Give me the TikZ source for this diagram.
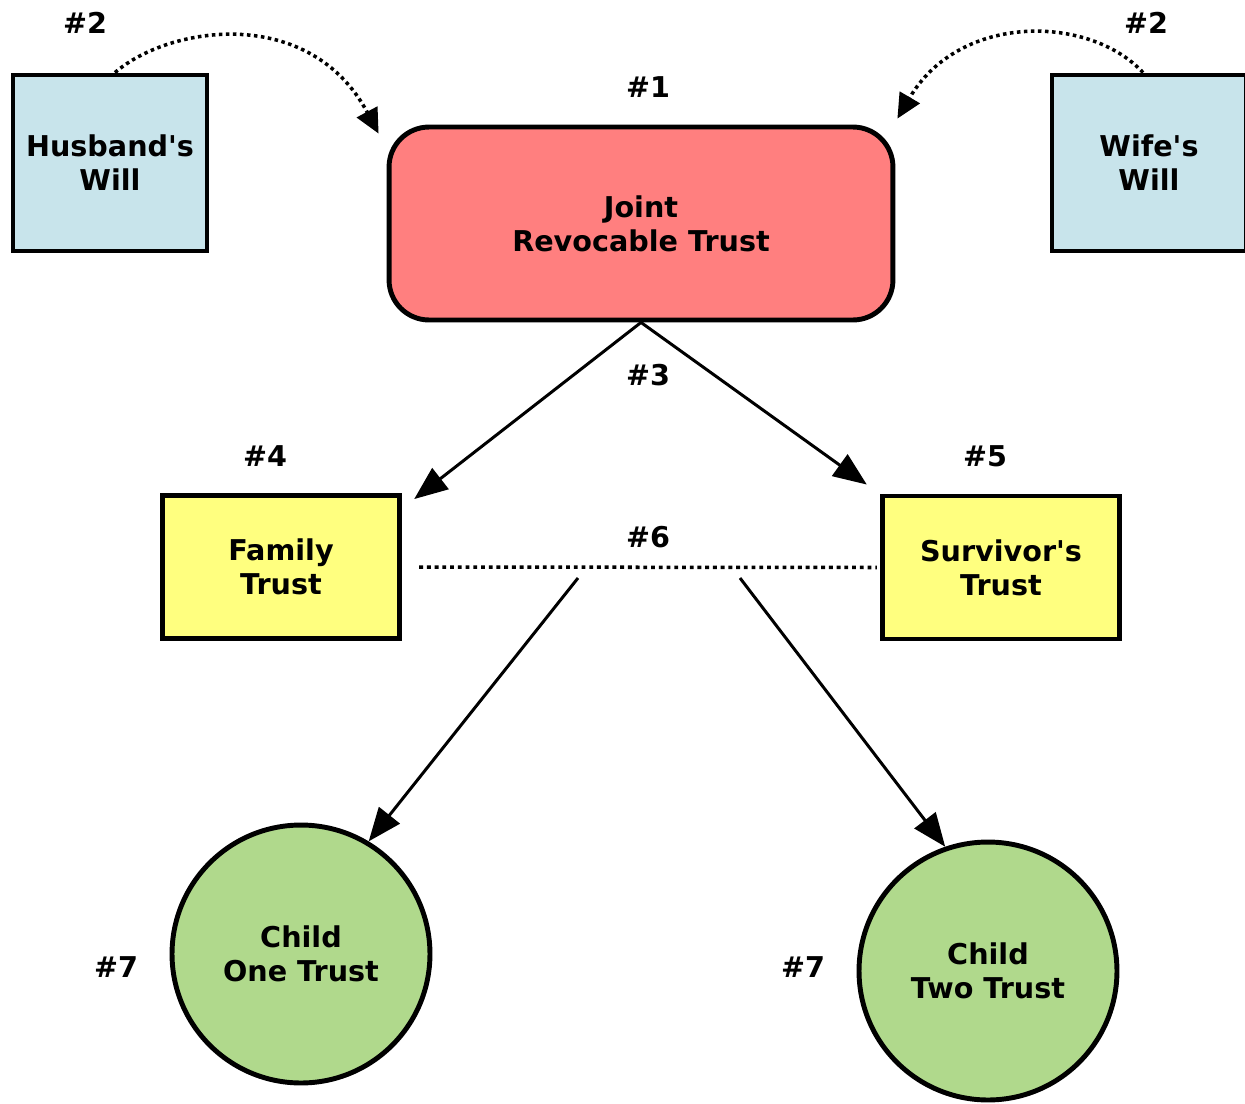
\documentclass[tikz,border=0pt]{standalone}
\usepackage{fontspec}
\setmainfont{DejaVu Sans}
\usetikzlibrary{positioning, arrows.meta, calc}
\definecolor{willblue}{RGB}{200,228,235}
\definecolor{trustred}{RGB}{255,127,127}
\definecolor{trustyellow}{RGB}{255,255,127}
\definecolor{childgreen}{RGB}{176,217,140}
\tikzset{
    willbox/.style={rectangle, draw=black, fill=willblue, line width=2.8pt, minimum width=3.88cm, minimum height=3.52cm, align=center, font=\fontsize{16.3}{19.3}\selectfont\bfseries},
    jointbox/.style={rectangle, rounded corners=0.8cm, draw=black, fill=trustred, line width=2.8pt, minimum width=10.08cm, minimum height=3.86cm, align=center, font=\fontsize{16.3}{19.3}\selectfont\bfseries},
    subtrust/.style={rectangle, draw=black, fill=trustyellow, line width=2.8pt, minimum width=4.75cm, minimum height=2.86cm, align=center, font=\fontsize{16.3}{19.3}\selectfont\bfseries},
    childtrust/.style={circle, draw=black, fill=childgreen, line width=2.8pt, minimum size=5.16cm, align=center, font=\fontsize{16.3}{19.3}\selectfont\bfseries},
    numlbl/.style={font=\fontsize{16.3}{19.3}\selectfont\bfseries},
    arr/.style={-{Triangle[length=19pt, width=15pt]}, line width=1.7pt},
    pourarr/.style={-{Triangle[length=14pt, width=13pt]}, line width=2pt, dash pattern=on 2pt off 2pt},
    dotline/.style={line width=2pt, dash pattern=on 2.2pt off 2.2pt}
}
\begin{document}
\begin{tikzpicture}[x=0.02cm, y=-0.02cm]
    \useasboundingbox (0,0) rectangle (1245,1103);
    % wills and the joint trust
    \node[willbox] (hwill) at (110,163) {Husband\textquotesingle s\\Will};
    \node[willbox] (wwill) at (1149,163) {Wife\textquotesingle s\\Will};
    \node[jointbox] (jrt) at (641,223.5) {Joint\\Revocable Trust};
    % trusts after the first death
    \node[subtrust] (family) at (281,567) {Family\\Trust};
    \node[subtrust] (survivor) at (1001,567.5) {Survivor\textquotesingle s\\Trust};
    % children
    \node[childtrust] (childone) at (301,954) {Child\\One Trust};
    \node[childtrust] (childtwo) at (988,971) {Child\\Two Trust};
    % numbers
    \node[numlbl] (n2a) at (85,23) {\#2};
    \node[numlbl] (n2b) at (1146,23) {\#2};
    \node[numlbl] (n1) at (648,87) {\#1};
    \node[numlbl] (n3) at (648,375) {\#3};
    \node[numlbl] (n4) at (265,456) {\#4};
    \node[numlbl] (n5) at (985,456) {\#5};
    \node[numlbl] (n6) at (648,537) {\#6};
    \node[numlbl] (n7a) at (116,967) {\#7};
    \node[numlbl] (n7b) at (803,967) {\#7};
    % pour-over from the wills
    \draw[pourarr] ([xshift=0.1cm]hwill.north) .. controls (170,25) and (310,5) .. ([shift={(-8,9)}]jrt.north west);
    \draw[pourarr] ([xshift=-0.12cm]wwill.north) .. controls (1090,15) and (960,12) .. ([shift={(2,-6)}]jrt.north east);
    % split into two trusts
    \draw[arr] (jrt.south) -- ([shift={(12,6)}]family.north east);
    \draw[arr] (jrt.south) -- ([shift={(-13,-9)}]survivor.north west);
    \draw[dotline, shorten <=0.34cm, shorten >=0.06cm] (family.east) -- (survivor.west);
    \coordinate (splitL) at (578,578);
    \coordinate (splitR) at (740,578);
    \draw[arr] (splitL) -- (childone.59);
    \draw[arr] (splitR) -- (childtwo.109);
\end{tikzpicture}
\end{document}
